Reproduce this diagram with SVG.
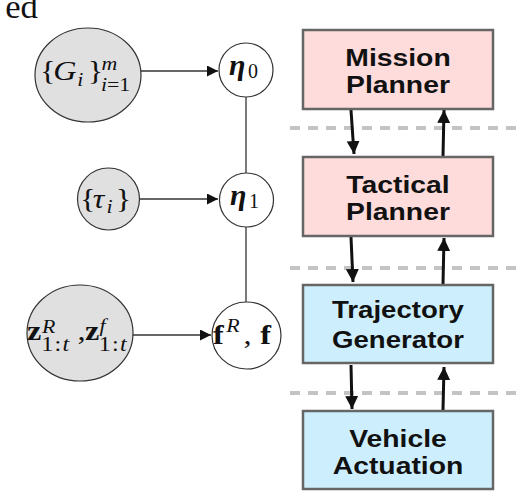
<svg xmlns="http://www.w3.org/2000/svg" width="522" height="496" viewBox="0 0 522 496">
<style>
.obs{fill:#e0e0e0;stroke:#333;stroke-width:1.2}
.lat{fill:#fff;stroke:#333;stroke-width:1.2}
.m{font-family:"Liberation Serif","DejaVu Serif",serif;fill:#111;font-size:28px}
.s{font-size:19px}
.it{font-style:italic}
.bf{font-weight:bold}
.edge{stroke:#333;stroke-width:1.3;fill:none}
.box{stroke:#666;stroke-width:2.5}
.pink{fill:#fddcdb}
.blue{fill:#cdeffd}
.lbl{font-family:"Liberation Sans",Arial,sans-serif;font-weight:bold;font-size:24px;fill:#111;text-anchor:middle}
.dash{stroke:#c4c4c4;stroke-width:4;stroke-dasharray:10 8}
.fl{stroke:#111;stroke-width:3;fill:none}
</style>
<defs>
<marker id="tri" viewBox="0 0 10 10" refX="10" refY="5" markerWidth="13" markerHeight="11" markerUnits="userSpaceOnUse" orient="auto">
<path d="M0,0 L10,5 L0,10 z" fill="#111"/>
</marker>
<marker id="big" viewBox="0 0 10 10" refX="10" refY="5" markerWidth="13" markerHeight="13" markerUnits="userSpaceOnUse" orient="auto">
<path d="M0,0 L10,5 L0,10 z" fill="#111"/>
</marker>
</defs>
<text class="m" x="5" y="18" style="font-size:33px" transform="scale(1.05 1)">ed</text>
<g id="dividers">
<line class="dash" x1="290" y1="128" x2="522" y2="128"/>
<line class="dash" x1="290" y1="268" x2="522" y2="268"/>
<line class="dash" x1="290" y1="393" x2="522" y2="393"/>
</g>
<g id="connectors">
<line class="edge" x1="141" y1="71" x2="218" y2="71" marker-end="url(#tri)"/>
<line class="edge" x1="140" y1="199" x2="218" y2="199" marker-end="url(#tri)"/>
<line class="edge" x1="133" y1="335" x2="211" y2="335" marker-end="url(#tri)"/>
<line class="edge" x1="246" y1="97" x2="246" y2="173"/>
<line class="edge" x1="246" y1="227" x2="246" y2="302"/>
<line class="fl" x1="351" y1="110" x2="354" y2="154" marker-end="url(#big)"/>
<line class="fl" x1="443" y1="156" x2="444" y2="110" marker-end="url(#big)"/>
<line class="fl" x1="351" y1="237" x2="353" y2="282" marker-end="url(#big)"/>
<line class="fl" x1="443" y1="284" x2="444" y2="238" marker-end="url(#big)"/>
<line class="fl" x1="351" y1="365" x2="352" y2="409" marker-end="url(#big)"/>
<line class="fl" x1="443" y1="410" x2="444" y2="367" marker-end="url(#big)"/>
</g>
<g id="G">
<ellipse class="obs" cx="88" cy="75" rx="53" ry="47"/>
<text class="m" transform="translate(40 0) scale(1.15 1)"><tspan x="0" y="80">{</tspan><tspan class="it" x="11.5" y="80">G</tspan><tspan class="it s" x="32.5" y="86">i</tspan><tspan x="41.5" y="80">}</tspan><tspan class="it s" x="53.5" y="70">m</tspan><tspan class="s" x="53" y="91"><tspan class="it">i</tspan>=1</tspan></text>
</g>
<g id="tau">
<ellipse class="obs" cx="108.5" cy="199" rx="31" ry="31"/>
<text class="m" transform="translate(80 0) scale(1.15 1)"><tspan x="0" y="208">{</tspan><tspan class="it" x="11" y="208">τ</tspan><tspan class="it s" x="23" y="213">i</tspan><tspan x="31" y="208">}</tspan></text>
</g>
<g id="z">
<ellipse class="obs" cx="80" cy="333" rx="53" ry="48"/>
<text class="m" transform="translate(27 0) scale(1.15 1)"><tspan class="bf" x="0" y="340">z</tspan><tspan class="it s" x="13" y="333">R</tspan><tspan font-size="21" letter-spacing="1" x="12.5" y="351">1:<tspan class="it">t</tspan></tspan><tspan x="44" y="340">,</tspan><tspan class="bf" x="50.5" y="340">z</tspan><tspan class="it s" x="63" y="332">f</tspan><tspan font-size="21" letter-spacing="1" x="62.5" y="351">1:<tspan class="it">t</tspan></tspan></text>
</g>
<g id="eta0">
<circle class="lat" cx="246" cy="70" r="27"/>
<text class="m"><tspan class="it bf" x="229" y="75" font-size="30">η</tspan><tspan font-size="20" x="248" y="78">0</tspan></text>
</g>
<g id="eta1">
<circle class="lat" cx="246.5" cy="200" r="27"/>
<text class="m"><tspan class="it bf" x="230" y="205" font-size="30">η</tspan><tspan font-size="20" x="249" y="208">1</tspan></text>
</g>
<g id="f">
<ellipse class="lat" cx="246.5" cy="335.5" rx="34.5" ry="33.5"/>
<text class="m" transform="translate(213 0) scale(1.15 1)"><tspan class="bf" x="0" y="344">f</tspan><tspan class="it s" x="11.5" y="332">R</tspan><tspan x="26.5" y="344">,</tspan><tspan class="bf" x="41" y="344">f</tspan></text>
</g>
<g id="mission">
<rect class="box pink" x="303" y="30" width="190" height="79"/>
<g transform="translate(398 0) scale(1.18 1)">
<text class="lbl" x="0" y="66">Mission</text>
<text class="lbl" x="0" y="93">Planner</text>
</g>
</g>
<g id="tactical">
<rect class="box pink" x="303" y="157" width="190" height="79"/>
<g transform="translate(398 0) scale(1.18 1)">
<text class="lbl" x="0" y="193">Tactical</text>
<text class="lbl" x="0" y="220">Planner</text>
</g>
</g>
<g id="trajectory">
<rect class="box blue" x="303" y="285" width="190" height="78"/>
<g transform="translate(398 0) scale(1.15 1)">
<text class="lbl" x="0" y="318">Trajectory</text>
<text class="lbl" x="0" y="348">Generator</text>
</g>
</g>
<g id="vehicle">
<rect class="box blue" x="303" y="411" width="190" height="78"/>
<g transform="translate(398 0) scale(1.18 1)">
<text class="lbl" x="0" y="447">Vehicle</text>
<text class="lbl" x="0" y="474">Actuation</text>
</g>
</g>
</svg>
